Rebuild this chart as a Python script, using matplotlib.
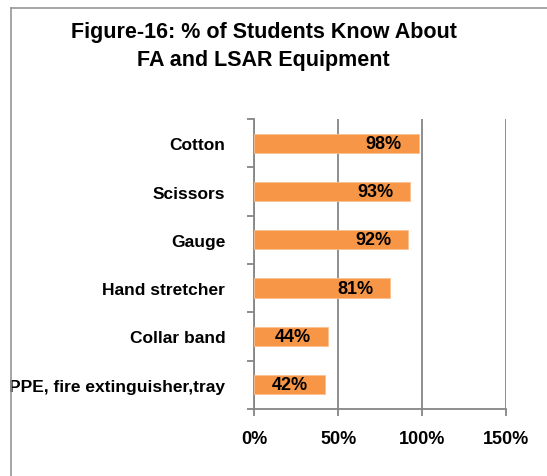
import matplotlib
matplotlib.use("Agg")
import matplotlib.pyplot as plt
from matplotlib.ticker import FixedLocator, FuncFormatter
from matplotlib.lines import Line2D

categories = ["Cotton", "Scissors", "Gauge", "Hand stretcher", "Collar band",
              "PPE, fire extinguisher,tray"]
values = [98, 93, 92, 81, 44, 42]
xticks = [0, 50, 100, 150]
title = "Figure-16: % of Students Know About\nFA and LSAR Equipment"

FONT = ["Liberation Sans Narrow", "Liberation Sans", "DejaVu Sans"]
plt.rcParams["font.family"] = FONT
plt.rcParams["font.weight"] = "bold"

fig = plt.figure(figsize=(5.47, 4.77), dpi=100)
ax = fig.add_axes([0.4649, 0.1405, 0.4596, 0.6079])

n = len(categories)
ypos = list(range(n))[::-1]
ax.barh(ypos, values, height=0.4, color="#F79646", edgecolor="#FAC090", linewidth=0.6, zorder=3)
for y, v in zip(ypos, values):
    ax.text(v - 10, y, f"{v}%", ha="right", va="center", fontsize=13, fontweight="bold",
            color="black", zorder=4)

ax.set_xlim(0, 150)
ax.set_ylim(-0.5, n - 0.5)
ax.set_xticks(xticks)
ax.xaxis.set_major_formatter(FuncFormatter(lambda v, p: f"{int(v)}%"))
ax.set_yticks(ypos)
ax.set_yticklabels(categories)
ax.yaxis.set_minor_locator(FixedLocator([i - 0.5 for i in range(n + 1)]))
ax.tick_params(axis="y", which="major", length=0, pad=21, labelsize=12.5)
ax.tick_params(axis="y", which="minor", length=5, width=1.3, color="#868686")
ax.tick_params(axis="x", which="major", length=5, width=1.3, color="#868686", pad=10, labelsize=13)
for lbl in ax.get_xticklabels() + ax.get_yticklabels():
    lbl.set_fontweight("bold")

ax.grid(axis="x", color="#868686", linewidth=1.3, zorder=0)
ax.set_axisbelow(True)
for s in ["top", "right"]:
    ax.spines[s].set_visible(False)
for s in ["left", "bottom"]:
    ax.spines[s].set_color("#868686")
    ax.spines[s].set_linewidth(1.3)

fig.text(0.482, 0.953, title, ha="center", va="top", fontsize=15.5, fontweight="bold",
         linespacing=1.4)

# chart frame (partial, as in reference)
fig.add_artist(Line2D([11 / 547, 11 / 547], [0, 1 - 9 / 477], transform=fig.transFigure,
                      color="#969696", linewidth=1.2))
fig.add_artist(Line2D([11 / 547, 1], [1 - 9 / 477, 1 - 9 / 477], transform=fig.transFigure,
                      color="#969696", linewidth=1.2))

fig.savefig("out.png", dpi=100)
